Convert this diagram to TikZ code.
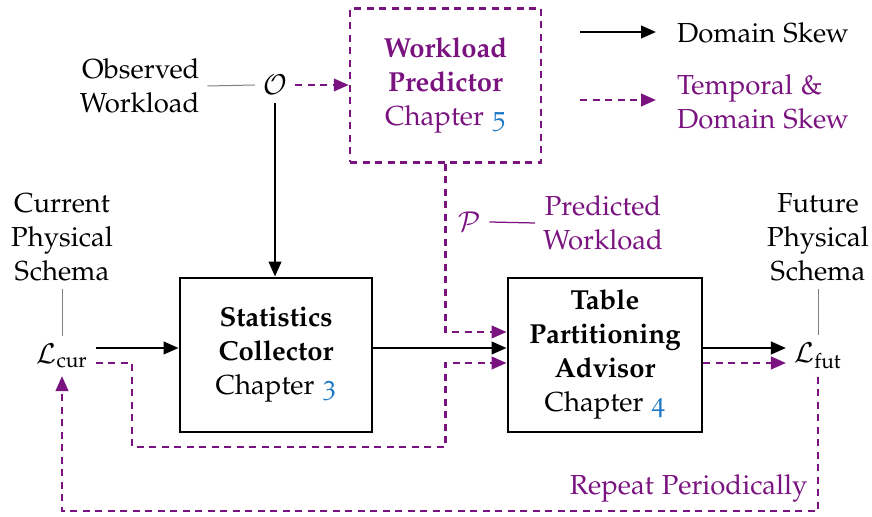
\documentclass[tikz,border=0pt]{standalone}
\usepackage[T1]{fontenc}
\usepackage[osf]{mathpazo}
\usepackage{amsmath}
\usetikzlibrary{arrows.meta,calc}
\definecolor{pur}{RGB}{122,19,128}
\definecolor{chapblue}{RGB}{28,120,196}
\newcommand{\chapref}[1]{Chapter \textcolor{chapblue}{#1}}
\begin{document}
\begin{tikzpicture}[x=0.4pt,y=-0.4pt,
  every node/.style={font=\fontsize{11pt}{13.6pt}\selectfont, inner sep=3pt},
  stage/.style={draw,line width=1.15pt,align=center,minimum height=61.6pt},
  lbl/.style={align=center},
  flow/.style={line width=1pt,-{Triangle[length=6pt,width=5pt]}},
  skew/.style={flow,draw=pur,dash pattern=on 2.8pt off 2.2pt},
  tie/.style={draw=gray,line width=0.4pt},
]
\useasboundingbox (0,0) rectangle (872,517);

% processing stages
\node[stage,minimum width=76.4pt,draw=pur,line width=1pt,
      dash pattern=on 2.8pt off 2.2pt,text=pur] (pred) at (445.5,85.5)
  {\textbf{Workload}\\\textbf{Predictor}\\\chapref{5}};
\node[stage,minimum width=76.8pt] (stats) at (276,355)
  {\textbf{Statistics}\\\textbf{Collector}\\\chapref{3}};
\node[stage,minimum width=77.6pt] (adv) at (605,355)
  {\textbf{Table}\\\textbf{Partitioning}\\\textbf{Advisor}\\\chapref{4}};

% workloads and schemas
\node (obsO) at (275,85) {$\mathcal{O}$};
\node[align=right,anchor=east] (obs) at (207.5,86) {Observed\\Workload};
\node[lbl] (cur) at (62,237) {Current\\Physical\\Schema};
\node (lcur) at (62,356) {$\mathcal{L}_{\text{cur}}$};
\node[lbl] (fut) at (818,237) {Future\\Physical\\Schema};
\node (lfut) at (818,356) {$\mathcal{L}_{\text{fut}}$};
\node[text=pur] (pp) at (470,222) {$\mathcal{P}$};
\node[lbl,text=pur] (ppt) at (603,223) {Predicted\\Workload};
\node[anchor=east,text=pur,inner sep=2pt] (rep) at (813,488) {Repeat Periodically};

% legend
\coordinate (k1a) at (580,32);
\coordinate (k1b) at (656,32);
\node[anchor=west] (k1) at (669,33) {Domain Skew};
\coordinate (k2a) at (580,100);
\coordinate (k2b) at (656,100);
\node[anchor=west,align=left,text=pur] (k2) at (669,102) {Temporal \&\\Domain Skew};
\draw[flow] (k1a) -- (k1b);
\draw[skew] (k2a) -- (k2b);

% label ties
\draw[tie] (obs.east) -- (obsO.west);
\draw[tie] (cur.south) -- (lcur.north);
\draw[tie] (fut.south) -- (lfut.north);
\draw[pur,line width=0.5pt] (pp.east) -- (ppt.west);

% domain-skew flow
\coordinate (sIn) at ($(stats.west)+(0,-7)$);
\coordinate (sOut) at ($(stats.east)+(0,-7)$);
\coordinate (aIn) at ($(adv.west)+(0,-7)$);
\coordinate (aOut) at ($(adv.east)+(0,-7)$);
\draw[flow] (obsO.south) -- (obsO.south |- stats.north);
\draw[flow] (lcur.east |- sIn) -- (sIn);
\draw[flow] (sOut) -- (aIn);
\draw[flow] (aOut) -- (lfut.west |- aOut);

% temporal & domain-skew flow
\coordinate (aTop) at ($(adv.west)+(0,-23)$);
\coordinate (aLow) at ($(adv.west)+(0,8)$);
\coordinate (fLow) at ($(adv.east)+(0,8)$);
\coordinate (bend) at (132,447);
\coordinate (loopR) at (818,511);
\draw[skew] (obsO.east) -- (obsO.east -| pred.west);
\draw[skew] (pred.south) |- (aTop);
\draw[skew] (lcur.east |- aLow) -| (bend) -| (pred.south |- aLow) -- (aLow);
\draw[skew] (fLow) -- (lfut.west |- fLow);
\draw[skew] (lfut.south) -- (lfut.south |- loopR) -| (lcur.south);
\end{tikzpicture}
\end{document}
